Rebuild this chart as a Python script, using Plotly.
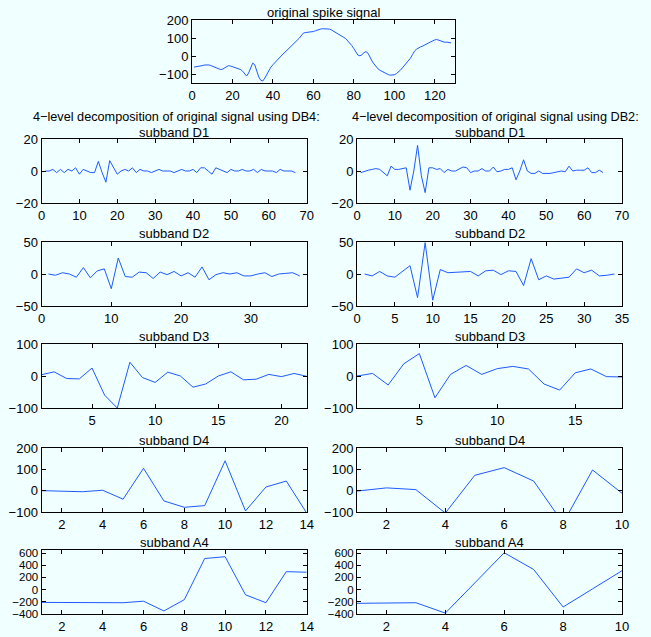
import plotly.graph_objects as go

W, H = 651, 637

# ---------------- data ----------------
orig_signal = [-58, -57, -55, -52, -50, -47, -45, -46, -48, -53, -59, -65, -70, -71, -70, -62,
               -55, -50, -52, -55, -58, -61, -65, -71, -80, -93, -107, -90, -58, -36, -45, -77,
               -112, -130, -134, -118, -95, -73, -58, -45, -32, -20, -8, 3, 14, 24,
               34, 46, 56, 66, 77, 89, 100, 113, 128, 131, 132, 133, 135, 137, 141, 145,
               149, 152, 152, 152, 151, 150, 145, 139, 131, 123, 117, 111, 105, 98, 87, 75,
               60, 43, 25, 8, 4, 10, 21, 27, 18, -5, -25, -41, -56, -68, -76, -82,
               -89, -95, -99, -102, -102, -100, -94, -86, -75, -62, -49, -36, -22, -9, 11, 30,
               40, 48, 53, 57, 64, 70, 75, 80, 86, 91, 93, 89, 83, 79, 78, 79, 77, 75]

db4_d1 = [0, 0, 1, -1, 1, -1, 1, 0, 2, -2, 1, 0, -1, -1, 6, -1, -7, 6.5, 2, -2,
          0, 1, 0, 2, -1, 1, 0, 0, -1, 0, 1, 0, 0, 0, -1, 0, 1, 0, 0, 1,
          -1, 2, 2, 0, -2, 2, 1, 0, -1, 1, 0, 0, 1, 0, 0, 1, -1, 1, 0, 0,
          0, -1, 1, 0, 0, 0, -1]
db4_d2 = [0, -2, 2, 0, -5, 10, -6, 5, 8, -23, 25, -4, -5, 3, 2, -7, 3, -1, 4, -3,
          2, -5, 11, -9, -1, 2, 0, 2, -3, -3, 0, 2, -4, 0, 1, 2, -3]
db4_d3 = [4, 13, -8, -9, 25, -60, -100, 43, -5, -20, 12, 0, -35, -25, 0, 13, -12, -10, 5, -2,
          8, -1]
db4_d4 = [0, -2, -5, 2, -40, 105, -48, -78, -70, 140, -95, 17, 45, -105]
db4_a4 = [-210, -210, -210, -210, -215, -190, -350, -165, 510, 540, -85, -215, 295, 285]

db2_d1 = [-1, 0, 0.5, 1, 1.5, 1, -1, -3, 3, 1, 1, 1.5, 2, -12, 0, 16, -3, -13.5, 2, 2,
          1, 1.5, -1, 1, 0, 0, 1, 2.5, 2, -1, 0, 0, 1.5, 0, 0, 2.5, -0.5, 0, 1, 1,
          2, -5.5, 0, 7, 0, -1.5, -1.5, 0, -1.5, -1.5, -1.5, -1, -0.5, 0, -0.5, 3, 0, 0.5, 0.5, 0.5,
          2, -1, -1, 0.5, -1]
db2_d2 = [0, -3, 4, -3, -5, 4, 13, -37, 49, -41, 7, 2, 3, 4, 4, -3, 5, 6, -1, 5,
          4, -18, 24, -9, -3, -8, -6, -5, 8, 2, 6, -3, -2, 0]
db2_d3 = [0, 8, -28, 38, 70, -68, 5, 33, 5, 23, 30, 22, -25, -44, 10, 22, -2, -3]
db2_d4 = [-2, 13, 5, -105, 72, 108, 45, -152, 97, -12]
db2_a4 = [-225, -220, -215, -385, 110, 605, 330, -285, 12, 310]

titles = ["subband D1", "subband D2", "subband D3", "subband D4", "subband A4"]
head_db4 = "4\u2212level decomposition of original signal using DB4:"
head_db2 = "4\u2212level decomposition of original signal using DB2:"

# ---------------- layout geometry (pixels) ----------------
BLUE = "#1E5AFF"
BG = "#F0FFFF"
FAM = "Liberation Sans, Arial, Helvetica, sans-serif"
FONT = dict(family=FAM, size=13, color="black")
HEAD_FONT = dict(family=FAM, size=12.7, color="black")

rows_px = [(139, 203), (242, 306), (344, 408), (448, 512), (550, 614)]
left_px = (41.5, 306.7)
right_px = (357, 622)
top_px = dict(x=(192, 455), y=(20, 83))

panels = []
panels.append(dict(data=orig_signal, xpx=top_px["x"], ypx=top_px["y"], xr=[0, 130], yr=[-145, 200],
                   xt=[0, 20, 40, 60, 80, 100, 120], yt=[-100, 0, 100, 200], title="original spike signal",
                   ysize=13))
left_data = [db4_d1, db4_d2, db4_d3, db4_d4, db4_a4]
right_data = [db2_d1, db2_d2, db2_d3, db2_d4, db2_a4]
left_xr = [[0, 70], [0, 38], [1, 22], [1, 14], [1, 14]]
right_xr = [[0, 70], [0, 35], [1, 18], [1, 10], [1, 10]]
left_xt = [list(range(0, 71, 10)), [0, 10, 20, 30], [5, 10, 15, 20], list(range(2, 15, 2)), list(range(2, 15, 2))]
right_xt = [list(range(0, 71, 10)), list(range(0, 36, 5)), [5, 10, 15], list(range(2, 11, 2)), list(range(2, 11, 2))]
yrs = [[-20, 20], [-50, 50], [-100, 100], [-100, 200], [-400, 650]]
yts = [[-20, 0, 20], [-50, 0, 50], [-100, 0, 100], [-100, 0, 100, 200], [-400, -200, 0, 200, 400, 600]]
ysizes = [13, 13, 13, 13, 11.5]

for r in range(5):
    panels.append(dict(data=left_data[r], xpx=left_px, ypx=rows_px[r], xr=left_xr[r], yr=yrs[r],
                       xt=left_xt[r], yt=yts[r], title=titles[r], ysize=ysizes[r]))
    panels.append(dict(data=right_data[r], xpx=right_px, ypx=rows_px[r], xr=right_xr[r], yr=yrs[r],
                       xt=right_xt[r], yt=yts[r], title=titles[r], ysize=ysizes[r]))

fig = go.Figure()
annotations = []
layout = {}
for i, p in enumerate(panels, start=1):
    sfx = "" if i == 1 else str(i)
    fig.add_trace(go.Scatter(x=list(range(1, len(p["data"]) + 1)), y=p["data"], mode="lines",
                             line=dict(color=BLUE, width=1), xaxis="x" + sfx, yaxis="y" + sfx,
                             showlegend=False, hoverinfo="skip"))
    axcommon = dict(showline=True, linecolor="black", linewidth=1, mirror="ticks", ticks="inside",
                    ticklen=4, tickcolor="black", showgrid=False, zeroline=False,
                    fixedrange=True, automargin=False)
    layout["xaxis" + sfx] = dict(domain=[p["xpx"][0] / W, p["xpx"][1] / W], range=p["xr"],
                                 tickvals=p["xt"], anchor="y" + sfx, tickfont=FONT, **axcommon)
    layout["yaxis" + sfx] = dict(domain=[1 - p["ypx"][1] / H, 1 - p["ypx"][0] / H], range=p["yr"],
                                 tickvals=p["yt"], anchor="x" + sfx,
                                 tickfont=dict(family=FAM, size=p["ysize"], color="black"), **axcommon)
    cx = (p["xpx"][0] + p["xpx"][1]) / 2
    ty = p["ypx"][0] - 8
    if i in (2, 3):
        ty = p["ypx"][0] - 7
    annotations.append(dict(text=p["title"], x=cx / W, y=1 - ty / H, xref="paper", yref="paper",
                            xanchor="center", yanchor="middle", showarrow=False, font=FONT))

annotations.append(dict(text=head_db4, x=176 / W, y=1 - 117 / H, xref="paper", yref="paper",
                        xanchor="center", yanchor="middle", showarrow=False, font=HEAD_FONT))
annotations.append(dict(text=head_db2, x=495 / W, y=1 - 117 / H, xref="paper", yref="paper",
                        xanchor="center", yanchor="middle", showarrow=False, font=HEAD_FONT))

fig.update_layout(template="none", width=W, height=H, margin=dict(l=0, r=0, t=0, b=0, pad=0),
                  paper_bgcolor=BG, plot_bgcolor=BG, font=FONT, showlegend=False,
                  annotations=annotations, **layout)

fig.write_html("out.html", config={"displayModeBar": False},
               post_script="document.body.style.margin='0px';document.body.style.background='#F0FFFF';")
